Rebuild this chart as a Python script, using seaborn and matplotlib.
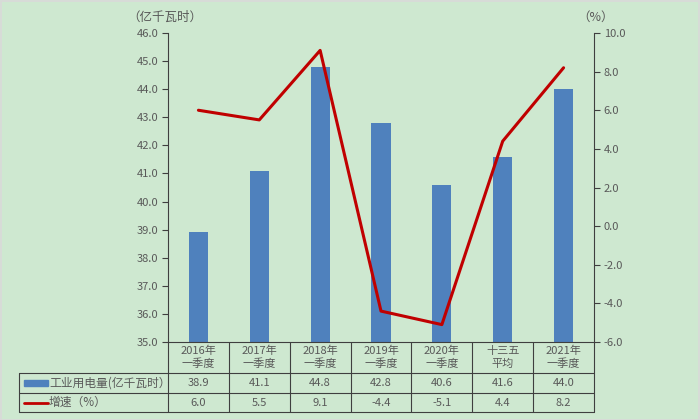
import matplotlib
matplotlib.use("Agg")
import matplotlib.pyplot as plt
import seaborn as sns
import pandas as pd
import numpy as np
from matplotlib.transforms import blended_transform_factory
from matplotlib.patches import Rectangle
from matplotlib.lines import Line2D

categories = ["2016年\n一季度", "2017年\n一季度", "2018年\n一季度", "2019年\n一季度",
              "2020年\n一季度", "十三五\n平均", "2021年\n一季度"]
power = [38.9, 41.1, 44.8, 42.8, 40.6, 41.6, 44.0]
growth = [6.0, 5.5, 9.1, -4.4, -5.1, 4.4, 8.2]
series_power = "工业用电量(亿千瓦时）"
series_growth = "增速（%）"
left_unit = "（亿千瓦时）"
right_unit = "（%）"

sns.set_theme(style="white")
plt.rcParams['font.family'] = ['Noto Sans CJK SC', 'DejaVu Sans']

BG = "#cee8d0"
BAR = "#4f81bd"
LINE = "#c00000"
TXT = "#595959"
GRID = "#3f3f3f"

df = pd.DataFrame({"cat": categories, "power": power, "growth": growth})

fig = plt.figure(figsize=(7, 4.2), dpi=100)
fig.patch.set_facecolor(BG)
ax = fig.add_axes([168/700, 1-342/420, (594-168)/700, (342-33)/420])
ax.set_facecolor(BG)

sns.barplot(data=df, x="cat", y="power", color=BAR, width=0.315, ax=ax,
            saturation=1, edgecolor="none")
ax.set_ylim(35, 46)
ax.set_yticks(np.arange(35, 46.01, 1))
ax.set_yticklabels([f"{v:.1f}" for v in np.arange(35, 46.01, 1)], color=TXT, fontsize=8)
ax.set_xlim(-0.5, len(categories) - 0.5)
ax.set_xlabel("")
ax.set_ylabel("")
ax.set_xticks([])
for s in ["top", "right"]:
    ax.spines[s].set_visible(False)
ax.spines["left"].set_color(GRID)
ax.spines["bottom"].set_color(GRID)
ax.spines["left"].set_linewidth(0.8)
ax.spines["bottom"].set_linewidth(0.8)
ax.tick_params(axis="y", direction="out", length=4, width=0.8, color=GRID, pad=3)

ax2 = ax.twinx()
sns.lineplot(x=np.arange(len(categories)), y=growth, color=LINE, linewidth=2.2, ax=ax2)
ax2.set_ylim(-6, 10)
ax2.set_yticks(np.arange(-6, 10.01, 2))
ax2.set_yticklabels([f"{v:.1f}" for v in np.arange(-6, 10.01, 2)], color=TXT, fontsize=8)
for s in ["top", "left", "bottom"]:
    ax2.spines[s].set_visible(False)
ax2.spines["right"].set_color(GRID)
ax2.spines["right"].set_linewidth(0.8)
ax2.tick_params(axis="y", direction="out", length=4, width=0.8, color=GRID, pad=3)
ax2.set_xlim(-0.5, len(categories) - 0.5)

# unit labels
fig.text(165/700, 1-17/420, left_unit, ha="center", va="center", fontsize=9, color=TXT)
fig.text(596/700, 1-17/420, right_unit, ha="center", va="center", fontsize=9, color=TXT)

# data table
tr = blended_transform_factory(ax.transData, ax.transAxes)
h = (342-33)
def yax(py):
    return (342 - py) / h

y_top = yax(342)
y_r1 = yax(373)
y_r2 = yax(393)
y_bot = yax(412)
x_left_fig = 19
x_left_data = -0.5 - (168 - x_left_fig) / ((594 - 168) / len(categories))
n = len(categories)
lw = 0.8
lines = []
# vertical lines
for k in range(n + 1):
    xk = -0.5 + k
    lines.append(Line2D([xk, xk], [y_top, y_bot], transform=tr, color=GRID, lw=lw, clip_on=False))
lines.append(Line2D([x_left_data, x_left_data], [y_r1, y_bot], transform=tr, color=GRID, lw=lw, clip_on=False))
for yy in [y_r1, y_r2, y_bot]:
    lines.append(Line2D([x_left_data, n - 0.5], [yy, yy], transform=tr, color=GRID, lw=lw, clip_on=False))
for l in lines:
    ax.add_line(l)

for i, c in enumerate(categories):
    ax.text(i, (y_top + y_r1) / 2, c, transform=tr, ha="center", va="center",
            fontsize=8, color=TXT, linespacing=1.25, clip_on=False)
    ax.text(i, (y_r1 + y_r2) / 2, f"{power[i]:.1f}", transform=tr, ha="center", va="center",
            fontsize=8, color=TXT, clip_on=False)
    ax.text(i, (y_r2 + y_bot) / 2, f"{growth[i]:.1f}", transform=tr, ha="center", va="center",
            fontsize=8, color=TXT, clip_on=False)

# legend keys in table
unit = (594 - 168) / n
kx0 = -0.5 - (168 - 24) / unit
kx1 = -0.5 - (168 - 48) / unit
tx = -0.5 - (168 - 49) / unit
ax.add_patch(Rectangle((kx0, y_r1 + (y_top - y_r1) * 0 + (y_r1 - y_r2) * 0.35 - (y_r1 - y_r2)), kx1 - kx0,
                       (y_r1 - y_r2) * 0.3, transform=tr, color=BAR, clip_on=False))
ax.add_line(Line2D([kx0, kx1], [(y_r2 + y_bot) / 2] * 2, transform=tr, color=LINE, lw=2, clip_on=False))
ax.text(tx, (y_r1 + y_r2) / 2, series_power, transform=tr, ha="left", va="center",
        fontsize=8.5, color=TXT, clip_on=False)
ax.text(tx, (y_r2 + y_bot) / 2, series_growth, transform=tr, ha="left", va="center",
        fontsize=8.5, color=TXT, clip_on=False)

# outer frame
fig.patches.append(Rectangle((0.5/700, 0.5/420), 1-1.5/700, 1-1.5/420, transform=fig.transFigure,
                             fill=False, edgecolor="#d9d9d9", lw=1.2))

fig.savefig("out.png", dpi=100, facecolor=BG)
